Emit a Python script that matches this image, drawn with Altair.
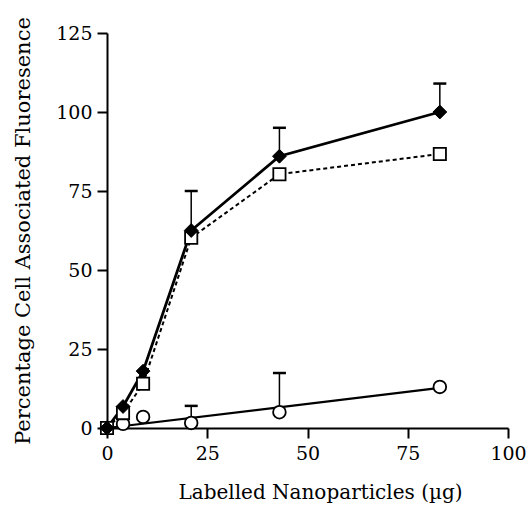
import altair as alt
import pandas as pd

# doses (µg)
doses = [0, 4, 9, 21, 43, 83]
# series values (%)
diamond_y = [0, 6.8, 18, 62.5, 86, 100]
square_y = [0, 4.7, 14, 60.2, 80.3, 86.7]
circle_y = [0, 1.3, 3.5, 1.6, 5.0, 13.0]
# upper error limits
diamond_err_x = [21, 43, 83]
diamond_err_base = [62.5, 86, 100]
diamond_err_top = [75, 95, 109]
circle_err_x = [21, 43]
circle_err_base = [1.6, 5.0]
circle_err_top = [7, 17.4]
# fitted line for circle series
fit_x = [0, 83]
fit_y = [0, 12.7]

FONT = "DejaVu Serif"

dia = pd.DataFrame({"x": doses, "y": diamond_y})
sq = pd.DataFrame({"x": doses, "y": square_y})
cir = pd.DataFrame({"x": doses, "y": circle_y})
fit = pd.DataFrame({"x": fit_x, "y": fit_y})
err = pd.DataFrame({
    "x": diamond_err_x + circle_err_x,
    "y": diamond_err_base + circle_err_base,
    "y2": diamond_err_top + circle_err_top,
})

xs = alt.Scale(domain=[0, 100], nice=False)
ys = alt.Scale(domain=[0, 125], nice=False)

xax = alt.Axis(values=[0, 25, 50, 75, 100], title="Labelled Nanoparticles (µg)",
               grid=False, domainColor="black", domainWidth=2, tickColor="black",
               tickWidth=2, tickSize=10, labelFont=FONT, labelFontSize=19,
               labelColor="black", labelPadding=6, labelFlush=False, labelOverlap=False,
               titleFont=FONT, titleFontSize=20,
               titleFontWeight="normal", titleColor="black", titlePadding=19,
               titleX=213, titleAlign="center")
yax = alt.Axis(values=[0, 25, 50, 75, 100, 125], title="Percentage Cell Associated Fluoresence",
               grid=False, domainColor="black", domainWidth=2, tickColor="black",
               tickWidth=2, tickSize=10, labelFont=FONT, labelFontSize=19,
               labelColor="black", labelPadding=5, labelFlush=False, labelOverlap=False,
               titleFont=FONT, titleFontSize=21,
               titleFontWeight="normal", titleColor="black", titlePadding=22)

X = alt.X("x:Q", scale=xs, axis=xax)
Y = alt.Y("y:Q", scale=ys, axis=yax)

err_rule = alt.Chart(err).mark_rule(color="black", strokeWidth=1.5).encode(
    x=X, y=Y, y2="y2:Q")
err_cap = alt.Chart(err).mark_tick(color="black", orient="horizontal", size=13, thickness=2.5,
                                   opacity=1).encode(
    x=X, y=alt.Y("y2:Q", scale=ys, axis=yax))

fit_line = alt.Chart(fit).mark_line(color="black", strokeWidth=2.2).encode(x=X, y=Y)
sq_line = alt.Chart(sq).mark_line(color="black", strokeWidth=2, strokeDash=[4, 3]).encode(x=X, y=Y)
dia_line = alt.Chart(dia).mark_line(color="black", strokeWidth=2.8).encode(x=X, y=Y)

cir_pts = alt.Chart(cir).mark_point(shape="circle", size=160, filled=True, fill="white",
                                    stroke="black", strokeWidth=1.8, opacity=1).encode(x=X, y=Y)
sq_pts = alt.Chart(sq).mark_point(shape="square", size=150, filled=True, fill="white",
                                  stroke="black", strokeWidth=1.8, opacity=1).encode(x=X, y=Y)
dia_pts = alt.Chart(dia).mark_point(shape="diamond", size=190, filled=True, fill="black",
                                    stroke="black", strokeWidth=1, opacity=1).encode(x=X, y=Y)

chart = alt.layer(dia_line, err_rule, err_cap, fit_line, sq_line, cir_pts, sq_pts, dia_pts).properties(
    width=401, height=395,
    autosize=alt.AutoSizeParams(type="none"),
    padding={"left": 107, "top": 33, "right": 19, "bottom": 82},
    background="white",
).configure_view(stroke=None)

chart.save("out.html", embed_options={"renderer": "svg", "actions": False})
